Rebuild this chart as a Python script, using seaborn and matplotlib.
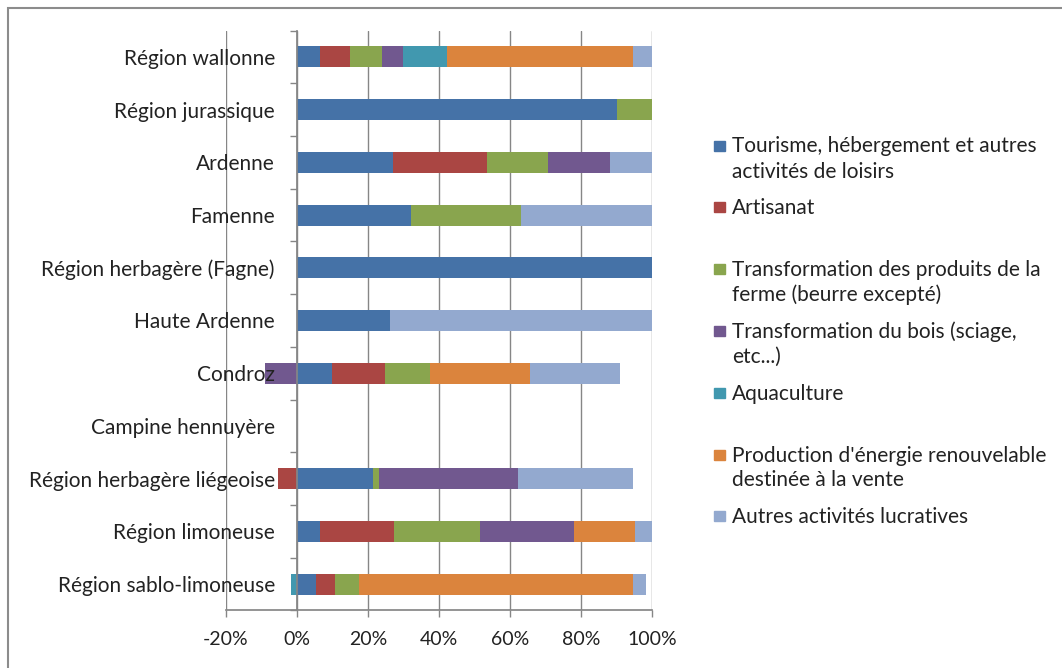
import numpy as np
import pandas as pd
import matplotlib
matplotlib.use("Agg")
import matplotlib.pyplot as plt
import seaborn as sns
from matplotlib.ticker import PercentFormatter, FixedLocator
from matplotlib.patches import Rectangle

# données (% par région)
regions = ["Région wallonne", "Région jurassique", "Ardenne", "Famenne",
           "Région herbagère (Fagne)", "Haute Ardenne", "Condroz",
           "Campine hennuyère", "Région herbagère liégeoise",
           "Région limoneuse", "Région sablo-limoneuse"]

series = ["Tourisme, hébergement et autres\nactivités de loisirs",
          "Artisanat",
          "Transformation des produits de la\nferme (beurre excepté)",
          "Transformation du bois (sciage,\netc...)",
          "Aquaculture",
          "Production d'énergie renouvelable\ndestinée à la vente",
          "Autres activités lucratives"]

tourisme = [6.4, 90.1, 27.0, 32.2, 100.0, 26.1, 9.9, 0, 21.3, 6.5, 5.4]
artisanat = [8.6, 0, 26.6, 0, 0, 0, 15.0, 0, -5.3, 20.8, 5.3]
ferme = [8.9, 9.9, 17.2, 31.0, 0, 0, 12.5, 0, 1.8, 24.2, 6.9]
bois = [5.9, 0, 17.5, 0, 0, 0, -9.0, 0, 39.2, 26.4, 0]
aquaculture = [12.5, 0, 0, 0, 0, 0, 0, 0, 0, 0, -1.8]
energie = [52.3, 0, 0, 0, 0, 0, 28.3, 0, 0, 17.2, 77.0]
autres = [5.4, 0, 11.7, 36.8, 0, 73.9, 25.4, 0, 32.4, 5.0, 3.8]

colors = ["#4572A7", "#AA4643", "#89A54E", "#71588F", "#4198AF", "#DB843D", "#93A9CF"]

values = np.array([tourisme, artisanat, ferme, bois, aquaculture, energie, autres])
pos_cum = np.cumsum(np.clip(values, 0, None), axis=0)
neg_cum = np.cumsum(np.clip(values, None, 0), axis=0)

sns.set_theme(style="white")
plt.rcParams["font.family"] = ["Lato", "DejaVu Sans"]
plt.rcParams["axes.unicode_minus"] = False

W, H = 1062, 668
fig = plt.figure(figsize=(W / 100, H / 100), dpi=100)
ax = fig.add_axes([226 / W, 1 - 610.4 / H, 426 / W, 579.8 / H])

# barres empilées : cumul dessiné du dernier au premier
for k in range(len(series) - 1, -1, -1):
    df = pd.DataFrame({"region": regions, "pos": pos_cum[k], "neg": neg_cum[k]})
    sns.barplot(data=df, x="pos", y="region", color=colors[k], width=0.4,
                orient="h", errorbar=None, saturation=1, linewidth=0, ax=ax, zorder=3)
    sns.barplot(data=df, x="neg", y="region", color=colors[k], width=0.4,
                orient="h", errorbar=None, saturation=1, linewidth=0, ax=ax, zorder=3)

gray = "#868686"
txt = "#222222"
ax.set_xlim(-20, 100)
ax.set_ylim(len(regions) - 0.5, -0.5)
ax.set_xlabel("")
ax.set_ylabel("")
ax.xaxis.set_major_locator(FixedLocator([-20, 0, 20, 40, 60, 80, 100]))
ax.xaxis.set_major_formatter(PercentFormatter(decimals=0))
ax.grid(axis="x", color=gray, linewidth=1, zorder=0)
ax.set_axisbelow(True)
ax.yaxis.set_zorder(5)

for s in ["top", "right"]:
    ax.spines[s].set_visible(False)
ax.spines["left"].set_position(("data", 0))
ax.spines["left"].set_color(gray)
ax.spines["bottom"].set_color(gray)
ax.spines["left"].set_zorder(4)

ax.yaxis.set_minor_locator(FixedLocator(np.arange(-0.5, len(regions), 1)))
ax.tick_params(axis="y", which="major", length=0, pad=16, labelsize=15, labelcolor=txt)
ax.tick_params(axis="y", which="minor", left=True, length=5, color=gray, width=1)
ax.tick_params(axis="x", which="major", bottom=True, length=5, color=gray, width=1,
               pad=10, labelsize=14, labelcolor=txt)

# légende
y0 = 145.5
step = 61.8
for i, lab in enumerate(series):
    yc = y0 + i * step
    fig.patches.append(Rectangle((714 / W, 1 - (yc + 5) / H), 11 / W, 10 / H,
                                 transform=fig.transFigure, color=colors[i]))
    for j, line in enumerate(lab.split("\n")):
        fig.text(732 / W, 1 - (yc + 7 + j * 25) / H, line, fontsize=15,
                 color=txt, va="baseline", ha="left")

# cadre du graphique
fig.patches.append(Rectangle((8 / W, -0.1), 2, 1 - 8 / H + 0.1, transform=fig.transFigure,
                             fill=False, edgecolor="#8c8c8c", linewidth=1.5))

fig.savefig("out.png", dpi=100)
